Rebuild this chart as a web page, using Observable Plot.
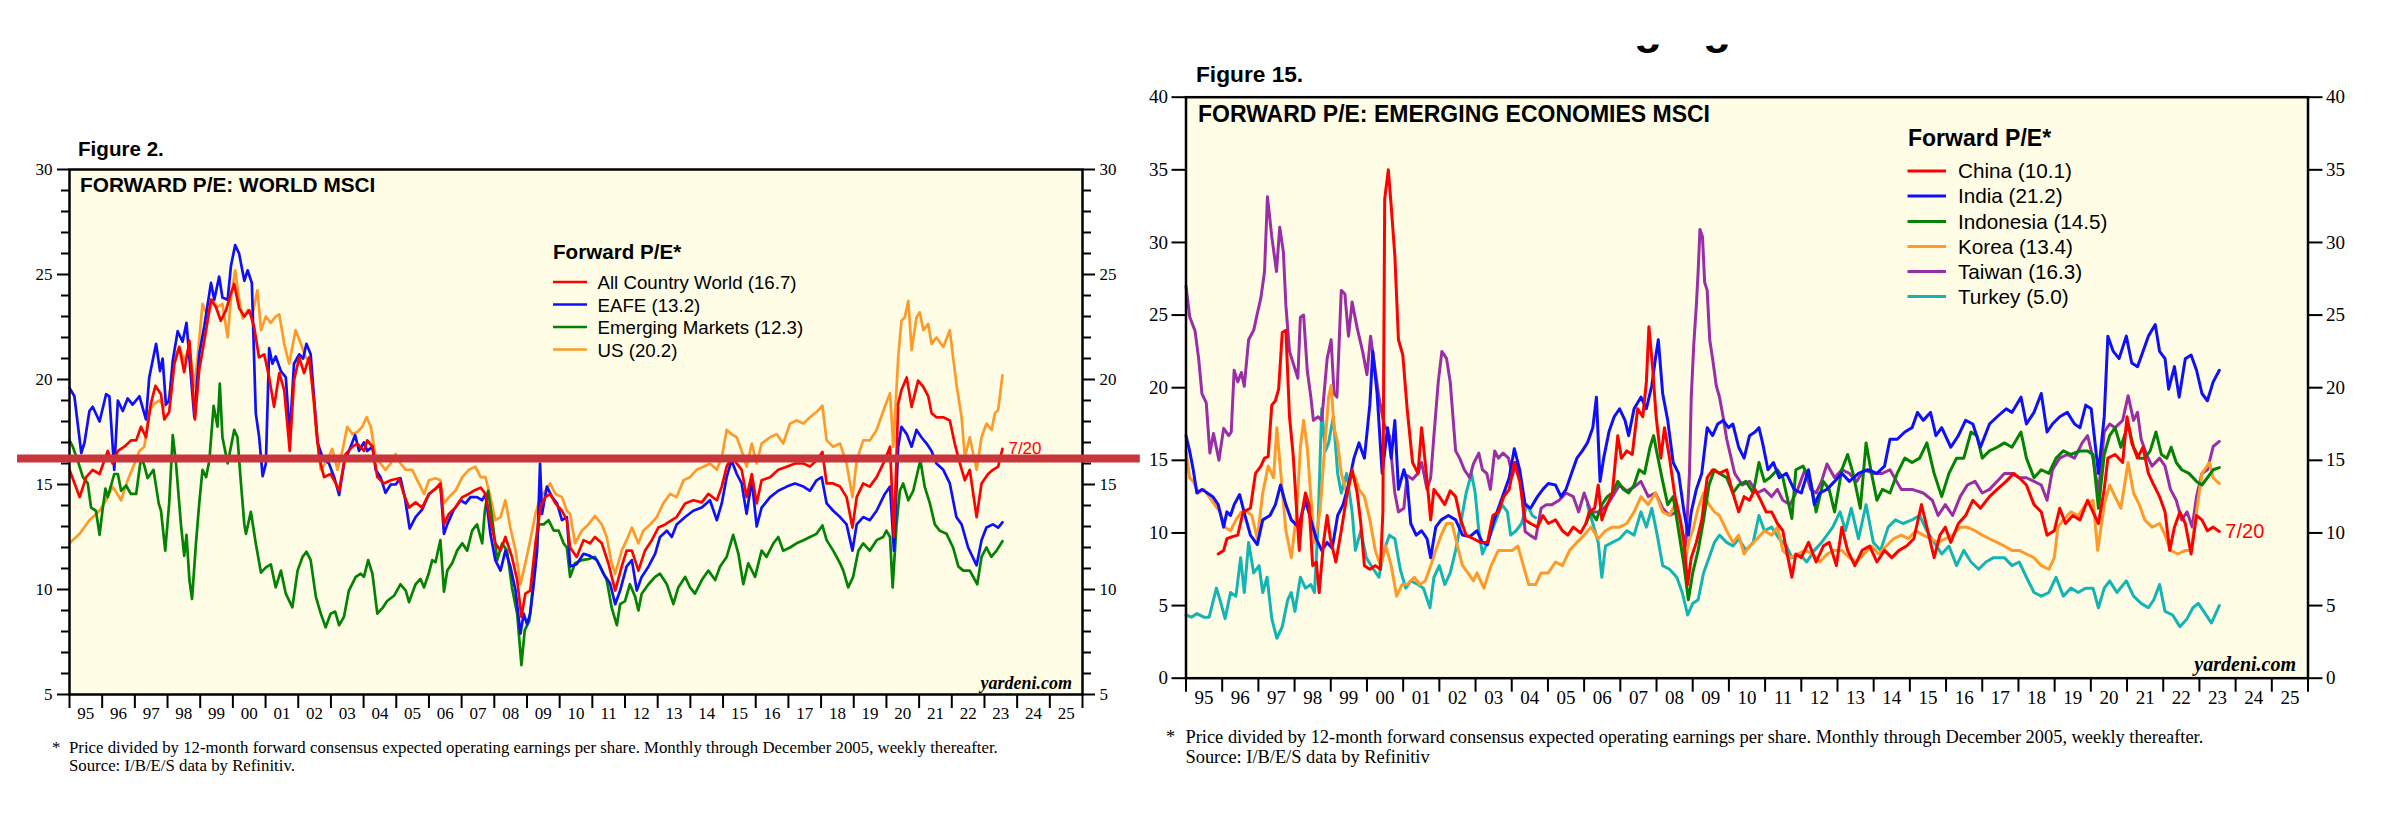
<!DOCTYPE html>
<html><head><meta charset="utf-8">
<script src="https://cdn.jsdelivr.net/npm/d3@7"></script>
<script src="https://cdn.jsdelivr.net/npm/@observablehq/plot@0.6"></script>
<style>
html,body{margin:0;padding:0;background:#fff;}
#page{position:relative;width:2389px;height:814px;overflow:hidden;background:#fff;}
</style></head><body><div id="page"></div>
<script>
// ---------- tick labels ----------
const yearTicks = d3.range(1995, 2027);
const yearMids = d3.range(1995.5, 2026, 1);
const yearLabels = ["95","96","97","98","99","00","01","02","03","04","05","06","07","08","09","10","11","12","13","14","15","16","17","18","19","20","21","22","23","24","25"];
const leftMajors = [5,10,15,20,25,30];
const leftMinors = [6,7,8,9,11,12,13,14,16,17,18,19,21,22,23,24,26,27,28,29];
const rightMajors = [0,5,10,15,20,25,30,35,40];
const leftNames = ["All Country World (16.7)","EAFE (13.2)","Emerging Markets (12.3)","US (20.2)"];
const rightNames = ["China (10.1)","India (21.2)","Indonesia (14.5)","Korea (13.4)","Taiwan (16.3)","Turkey (5.0)"];

// ---------- Figure 2 series: [year, forward P/E] ----------
const acw = [[1995.00,15.7],[1995.31,14.4],[1995.51,15.35],[1995.71,15.7],[1995.92,15.5],[1996.17,16.6],[1996.32,16.0],[1996.48,16.6],[1996.68,16.8],[1996.88,17.1],[1997.04,17.1],[1997.19,17.75],[1997.34,17.25],[1997.49,18.85],[1997.63,19.7],[1997.80,19.3],[1997.90,18.1],[1998.05,18.45],[1998.21,20.75],[1998.36,21.55],[1998.51,20.35],[1998.67,21.85],[1998.84,18.1],[1998.97,20.45],[1999.18,22.35],[1999.33,23.8],[1999.48,23.45],[1999.63,22.8],[1999.79,23.3],[1999.94,24.1],[2000.04,24.55],[2000.19,23.4],[2000.35,23.0],[2000.50,23.3],[2000.65,22.5],[2000.80,21.05],[2000.96,21.2],[2001.11,20.1],[2001.26,18.7],[2001.42,20.3],[2001.57,19.5],[2001.74,16.6],[2001.87,19.95],[2002.03,21.05],[2002.18,20.3],[2002.33,21.05],[2002.48,19.0],[2002.64,16.3],[2002.79,15.35],[2002.99,15.5],[2003.15,15.05],[2003.25,14.7],[2003.45,16.45],[2003.66,16.8],[2003.81,16.95],[2004.01,16.6],[2004.11,17.1],[2004.27,16.8],[2004.42,15.35],[2004.62,15.05],[2004.83,15.2],[2005.08,15.3],[2005.23,14.55],[2005.39,13.9],[2005.59,14.15],[2005.79,13.9],[2006.00,14.55],[2006.20,14.8],[2006.35,15.05],[2006.46,13.1],[2006.61,13.6],[2006.81,13.9],[2007.02,14.4],[2007.22,14.55],[2007.37,14.7],[2007.58,14.85],[2007.73,14.55],[2007.88,13.3],[2008.03,12.2],[2008.19,11.85],[2008.34,12.5],[2008.54,11.55],[2008.70,10.45],[2008.83,8.7],[2008.95,9.8],[2009.10,9.95],[2009.26,12.2],[2009.41,13.9],[2009.56,14.4],[2009.71,14.55],[2009.87,14.1],[2010.07,13.75],[2010.22,13.3],
[2010.32,12.0],[2010.52,11.55],[2010.73,12.35],[2010.93,12.2],[2011.08,12.5],[2011.29,12.2],[2011.49,11.25],[2011.70,9.95],[2011.90,11.1],[2012.05,11.85],[2012.21,11.85],[2012.41,10.9],[2012.61,11.85],[2012.82,12.35],[2013.02,12.95],[2013.23,13.1],[2013.43,13.3],[2013.58,13.45],[2013.84,14.1],[2014.09,14.25],[2014.35,14.15],[2014.55,14.55],[2014.81,14.25],[2014.96,14.9],[2015.11,15.85],[2015.26,16.3],[2015.42,16.0],[2015.57,15.7],[2015.72,14.4],[2015.88,15.5],[2016.03,14.1],[2016.18,15.2],[2016.44,15.35],[2016.69,15.7],[2016.95,15.85],[2017.20,16.0],[2017.46,16.0],[2017.66,15.85],[2017.86,16.15],[2018.04,16.55],[2018.17,15.05],[2018.37,15.05],[2018.58,14.9],[2018.78,14.4],[2018.96,12.95],[2019.09,14.4],[2019.29,15.05],[2019.49,14.9],[2019.70,15.35],[2019.95,16.15],[2020.11,16.8],[2020.23,12.5],[2020.36,18.85],[2020.46,19.5],[2020.62,20.1],[2020.77,18.7],[2020.97,19.95],[2021.13,19.65],[2021.28,19.2],[2021.38,18.4],[2021.53,18.2],[2021.74,18.2],[2021.94,18.05],[2022.09,16.95],[2022.25,16.0],[2022.40,15.2],[2022.55,15.7],[2022.76,13.45],[2022.91,15.05],[2023.11,15.5],[2023.26,15.7],[2023.42,15.85],[2023.55,16.7]];

const eafe = [[1995.00,19.6],[1995.15,19.2],[1995.36,16.5],[1995.46,17.0],[1995.61,18.5],[1995.71,18.7],[1995.92,18.0],[1996.12,19.3],[1996.22,19.2],[1996.37,15.7],[1996.48,19.0],[1996.63,18.5],[1996.78,19.1],[1996.93,18.8],[1997.14,19.2],[1997.34,18.1],[1997.44,20.1],[1997.65,21.7],[1997.77,20.4],[1997.85,21.0],[1997.95,18.8],[1998.05,19.0],[1998.16,20.9],[1998.31,22.3],[1998.46,21.8],[1998.58,22.7],[1998.82,18.2],[1998.97,21.2],[1999.12,22.5],[1999.33,24.6],[1999.43,23.8],[1999.58,24.9],[1999.68,23.9],[1999.84,23.8],[1999.94,25.4],[2000.07,26.4],[2000.19,26.0],[2000.35,24.7],[2000.45,25.2],[2000.58,24.6],[2000.70,18.4],[2000.80,17.3],[2000.91,15.4],[2001.01,16.0],[2001.11,21.5],[2001.21,20.75],[2001.31,21.1],[2001.47,20.4],[2001.62,20.1],[2001.74,17.3],[2001.87,20.75],[2002.03,21.2],[2002.15,21.0],[2002.25,21.7],[2002.38,21.2],[2002.48,19.2],[2002.59,17.0],[2002.74,16.3],[2002.94,16.0],[2003.10,15.35],[2003.25,14.5],[2003.40,16.0],[2003.55,16.6],[2003.74,17.35],[2003.86,16.6],[2004.01,17.0],[2004.11,16.6],[2004.27,16.8],[2004.37,15.7],[2004.52,15.35],[2004.67,14.6],[2004.83,15.0],[2004.98,15.0],[2005.13,15.3],[2005.26,14.4],[2005.41,12.9],[2005.59,13.45],[2005.79,13.8],[2006.00,14.55],[2006.20,14.8],[2006.35,15.0],[2006.46,12.65],[2006.56,13.1],[2006.76,13.8],[2006.97,14.25],[2007.12,14.1],[2007.27,14.4],[2007.47,14.4],[2007.63,14.25],[2007.73,14.55],[2007.88,12.65],[2008.03,11.4],[2008.19,10.9],[2008.34,11.85],[2008.49,11.1],[2008.65,9.95],[2008.80,7.9],[2008.90,8.85],[2009.00,8.35],[2009.10,8.85],[2009.21,10.3],[2009.31,11.85],[2009.40,16.0],[2009.46,13.6],[2009.61,14.9],[2009.77,14.4],[2009.92,14.1],[2010.07,13.3],[2010.22,13.45],
[2010.32,11.1],[2010.52,11.2],[2010.73,11.7],[2010.93,11.6],[2011.14,11.4],[2011.34,10.75],[2011.54,10.3],[2011.70,9.3],[2011.85,9.95],[2012.05,11.1],[2012.21,11.4],[2012.36,9.95],[2012.51,10.6],[2012.72,11.1],[2012.92,11.7],[2013.07,12.5],[2013.28,12.8],[2013.43,12.5],[2013.58,13.1],[2013.84,13.45],[2014.09,13.75],[2014.35,13.9],[2014.60,14.25],[2014.81,13.3],[2014.96,14.1],[2015.11,15.35],[2015.26,16.15],[2015.42,15.5],[2015.57,15.05],[2015.72,13.6],[2015.88,15.2],[2016.03,13.0],[2016.18,13.9],[2016.44,14.4],[2016.69,14.7],[2016.95,14.9],[2017.20,15.05],[2017.46,14.9],[2017.66,14.7],[2017.86,15.2],[2018.02,15.35],[2018.17,14.1],[2018.37,13.75],[2018.58,13.45],[2018.78,13.1],[2018.96,11.85],[2019.09,13.1],[2019.29,13.45],[2019.49,13.3],[2019.70,13.75],[2019.95,14.55],[2020.11,14.9],[2020.23,11.85],[2020.36,16.8],[2020.46,17.75],[2020.62,17.4],[2020.77,16.8],[2020.92,17.6],[2021.07,17.25],[2021.23,16.95],[2021.38,16.6],[2021.53,16.0],[2021.74,15.7],[2021.94,15.05],[2022.14,13.45],[2022.30,13.1],[2022.50,12.0],[2022.76,11.15],[2022.91,12.35],[2023.06,12.95],[2023.26,13.1],[2023.42,12.95],[2023.55,13.2]];

const em = [[1995.00,17.1],[1995.10,16.8],[1995.25,16.15],[1995.41,15.35],[1995.56,15.05],[1995.66,13.9],[1995.81,13.75],[1995.92,12.6],[1996.02,13.9],[1996.10,14.8],[1996.17,14.4],[1996.37,15.5],[1996.48,15.5],[1996.58,14.7],[1996.73,14.95],[1996.88,14.55],[1997.04,14.55],[1997.19,16.3],[1997.29,15.9],[1997.39,15.3],[1997.57,15.7],[1997.73,14.1],[1997.80,13.75],[1997.93,11.85],[1998.05,14.1],[1998.16,17.35],[1998.26,16.0],[1998.41,13.1],[1998.51,11.6],[1998.58,12.6],[1998.67,10.45],[1998.75,9.55],[1998.87,12.2],[1998.97,14.1],[1999.07,15.7],[1999.18,15.35],[1999.28,16.15],[1999.41,18.75],[1999.53,17.75],[1999.60,19.8],[1999.68,17.25],[1999.84,16.0],[1999.94,16.8],[2000.04,17.6],[2000.14,17.25],[2000.24,15.2],[2000.35,13.1],[2000.40,12.65],[2000.55,13.7],[2000.70,12.2],[2000.86,10.8],[2001.01,11.05],[2001.16,11.2],[2001.31,10.1],[2001.47,10.9],[2001.62,9.8],[2001.82,9.15],[2001.98,10.9],[2002.13,11.55],[2002.25,11.8],[2002.38,11.4],[2002.54,9.65],[2002.69,8.85],[2002.84,8.2],[2002.99,8.85],[2003.13,8.95],[2003.25,8.3],[2003.40,8.7],[2003.55,9.95],[2003.76,10.6],[2003.91,10.75],[2004.01,10.6],[2004.14,11.4],[2004.27,10.75],[2004.42,8.85],[2004.57,9.1],[2004.72,9.45],[2004.93,9.7],[2005.13,10.25],[2005.29,9.95],[2005.39,9.4],[2005.59,10.25],[2005.74,10.5],[2005.85,10.1],[2006.00,10.8],[2006.10,11.4],[2006.20,11.3],[2006.35,12.35],[2006.46,9.9],[2006.56,10.9],[2006.71,11.25],[2006.86,11.85],[2007.02,12.2],[2007.17,11.85],[2007.32,12.8],[2007.47,13.1],[2007.63,12.2],[2007.71,13.75],[2007.81,14.7],[2007.93,13.45],[2008.09,11.4],[2008.24,12.2],[2008.39,11.85],[2008.54,10.1],[2008.70,8.85],[2008.83,6.4],[2008.93,8.05],[2009.07,8.5],[2009.21,10.6],[2009.36,13.1],[2009.51,13.1],[2009.66,13.3],[2009.82,12.8],[2009.97,12.8],[2010.12,12.2],[2010.22,12.0],
[2010.32,10.6],[2010.47,11.25],[2010.68,11.4],[2010.88,11.45],[2011.08,11.55],[2011.24,11.1],[2011.44,10.45],[2011.59,9.15],[2011.75,8.3],[2011.85,9.3],[2012.00,9.45],[2012.15,10.25],[2012.31,9.65],[2012.41,9.0],[2012.51,9.8],[2012.72,10.25],[2012.92,10.6],[2013.07,10.75],[2013.28,10.25],[2013.48,9.3],[2013.63,10.1],[2013.84,10.6],[2013.99,10.1],[2014.14,9.8],[2014.35,10.45],[2014.55,10.9],[2014.76,10.45],[2014.91,11.1],[2015.11,11.55],[2015.31,12.6],[2015.47,11.7],[2015.62,10.25],[2015.77,11.25],[2015.98,10.6],[2016.18,11.85],[2016.33,11.55],[2016.54,12.2],[2016.69,12.5],[2016.84,11.85],[2017.05,12.0],[2017.25,12.2],[2017.46,12.35],[2017.66,12.5],[2017.86,12.65],[2018.04,13.05],[2018.17,12.35],[2018.37,11.85],[2018.58,11.25],[2018.68,10.9],[2018.83,10.1],[2018.98,10.6],[2019.14,11.85],[2019.29,12.2],[2019.49,11.85],[2019.70,12.35],[2019.90,12.5],[2020.00,12.8],[2020.11,12.5],[2020.19,10.1],[2020.31,13.1],[2020.41,14.7],[2020.51,15.05],[2020.67,14.25],[2020.82,14.7],[2020.97,15.7],[2021.04,16.15],[2021.17,14.9],[2021.33,14.1],[2021.48,13.1],[2021.63,12.8],[2021.84,12.65],[2022.04,12.0],[2022.20,11.1],[2022.35,10.9],[2022.55,10.9],[2022.78,10.25],[2022.91,11.55],[2023.06,12.0],[2023.21,11.55],[2023.37,11.85],[2023.55,12.3]];

const us = [[1995.00,12.2],[1995.31,12.65],[1995.61,13.3],[1995.92,13.75],[1996.12,14.25],[1996.32,14.9],[1996.58,14.25],[1996.78,15.2],[1996.99,16.0],[1997.14,16.6],[1997.29,16.8],[1997.44,18.5],[1997.60,18.85],[1997.75,19.0],[1997.90,18.7],[1998.05,19.15],[1998.21,21.05],[1998.36,21.55],[1998.51,20.9],[1998.67,21.55],[1998.82,19.65],[1998.92,21.05],[1999.07,23.6],[1999.23,23.0],[1999.38,23.8],[1999.53,23.45],[1999.68,23.6],[1999.84,22.0],[1999.94,23.9],[2000.07,25.2],[2000.19,23.8],[2000.30,22.9],[2000.45,23.3],[2000.60,23.1],[2000.75,24.25],[2000.86,22.35],[2001.01,23.0],[2001.16,22.7],[2001.31,23.0],[2001.42,23.1],[2001.57,21.7],[2001.72,20.75],[2001.82,21.55],[2001.92,22.35],[2002.08,21.7],[2002.23,21.05],[2002.38,20.75],[2002.54,17.6],[2002.69,15.7],[2002.89,16.15],[2003.04,16.7],[2003.20,15.7],[2003.35,16.6],[2003.50,17.75],[2003.66,17.4],[2003.81,17.5],[2003.96,17.75],[2004.09,18.2],[2004.22,17.75],[2004.37,16.3],[2004.52,16.0],[2004.67,15.7],[2004.83,16.0],[2004.98,16.45],[2005.13,16.0],[2005.29,15.7],[2005.49,15.7],[2005.69,15.05],[2005.85,14.55],[2006.00,15.2],[2006.20,15.3],[2006.35,15.2],[2006.46,14.1],[2006.61,14.4],[2006.81,14.7],[2007.02,15.35],[2007.22,15.7],[2007.42,15.85],[2007.58,15.35],[2007.73,15.35],[2007.88,14.4],[2008.03,13.3],[2008.19,13.45],[2008.34,14.25],[2008.49,12.95],[2008.65,11.85],[2008.80,10.25],[2008.95,11.25],[2009.10,12.35],[2009.26,13.6],[2009.41,14.4],[2009.56,14.7],[2009.71,15.05],[2009.87,14.55],[2010.07,14.4],[2010.22,13.75],
[2010.32,13.6],[2010.47,12.2],[2010.68,12.8],[2010.88,13.1],[2011.08,13.5],[2011.29,13.1],[2011.44,12.5],[2011.59,11.25],[2011.70,10.75],[2011.90,11.85],[2012.05,12.35],[2012.21,12.95],[2012.41,12.2],[2012.56,12.8],[2012.77,13.1],[2012.97,13.45],[2013.17,14.1],[2013.38,14.55],[2013.58,14.4],[2013.79,15.2],[2013.99,15.35],[2014.19,15.7],[2014.40,15.85],[2014.60,16.0],[2014.81,15.7],[2014.96,16.3],[2015.11,17.6],[2015.26,17.4],[2015.42,17.25],[2015.57,16.6],[2015.72,15.85],[2015.88,16.95],[2016.03,16.0],[2016.18,16.95],[2016.44,17.25],[2016.64,17.4],[2016.84,16.95],[2017.05,17.9],[2017.25,18.05],[2017.46,17.9],[2017.66,18.2],[2017.86,18.45],[2018.04,18.75],[2018.17,17.1],[2018.37,16.8],[2018.58,16.95],[2018.78,16.0],[2018.96,14.4],[2019.09,16.15],[2019.29,17.1],[2019.49,17.1],[2019.70,17.6],[2019.95,18.7],[2020.11,19.35],[2020.21,16.8],[2020.36,21.05],[2020.46,22.8],[2020.56,22.95],[2020.67,23.75],[2020.77,21.4],[2020.92,22.95],[2021.02,23.2],[2021.13,22.35],[2021.28,22.65],[2021.38,21.7],[2021.53,22.0],[2021.74,21.55],[2021.94,22.35],[2022.04,21.05],[2022.14,19.8],[2022.30,18.2],[2022.40,16.3],[2022.55,17.25],[2022.76,15.7],[2022.91,17.25],[2023.06,17.9],[2023.22,17.6],[2023.32,18.4],[2023.42,18.55],[2023.55,20.2]];

// ---------- Figure 15 series ----------
const china = [[1995.89,8.55],[1996.04,8.8],[1996.13,9.6],[1996.28,9.75],[1996.43,9.85],[1996.58,11.45],[1996.78,11.7],[1996.92,14.1],[1997.07,14.6],[1997.17,15.15],[1997.27,15.25],[1997.37,18.8],[1997.47,19.1],[1997.56,19.9],[1997.66,23.8],[1997.76,23.95],[1997.86,18.0],[1997.96,15.4],[1998.06,11.45],[1998.13,8.8],[1998.21,11.45],[1998.30,12.75],[1998.40,11.95],[1998.50,7.75],[1998.60,8.0],[1998.68,5.9],[1998.80,9.35],[1998.90,11.2],[1998.99,9.6],[1999.14,8.0],[1999.29,10.15],[1999.44,12.5],[1999.59,14.35],[1999.73,12.75],[1999.83,10.65],[1999.93,7.75],[2000.08,7.5],[2000.23,7.75],[2000.37,7.5],[2000.44,11.45],[2000.49,33.0],[2000.59,35.0],[2000.67,32.5],[2000.77,29.1],[2000.87,23.3],[2000.99,22.25],[2001.11,18.55],[2001.26,14.85],[2001.41,14.1],[2001.51,17.25],[2001.64,14.1],[2001.76,10.9],[2001.85,13.0],[2002.00,12.5],[2002.15,11.95],[2002.30,12.9],[2002.45,12.5],[2002.59,10.9],[2002.74,9.85],[2002.94,9.6],[2003.14,9.35],[2003.33,9.35],[2003.48,11.2],[2003.63,11.45],[2003.78,12.5],[2003.93,13.0],[2004.07,14.85],[2004.22,13.55],[2004.37,10.9],[2004.52,10.65],[2004.71,10.4],[2004.86,11.2],[2005.01,10.65],[2005.21,10.9],[2005.40,10.15],[2005.55,9.85],[2005.70,10.4],[2005.90,10.0],[2006.05,10.65],[2006.14,11.45],[2006.29,11.7],[2006.39,13.3],[2006.49,10.9],[2006.64,11.95],[2006.78,12.75],[2006.93,16.7],[2007.03,15.15],[2007.18,15.65],[2007.33,15.4],[2007.48,18.55],[2007.62,18.0],[2007.72,20.4],[2007.79,24.2],[2007.89,21.45],[2007.99,18.0],[2008.12,15.15],[2008.22,17.25],[2008.36,15.15],[2008.51,12.5],[2008.66,10.9],[2008.76,9.35],[2008.86,6.45],[2008.96,8.3],[2009.10,9.35],[2009.25,10.9],[2009.40,13.8],[2009.55,14.35],[2009.74,14.1],[2009.94,14.35],
[2010.11,12.75],[2010.27,11.45],[2010.42,12.5],[2010.57,12.25],[2010.72,13.0],[2010.88,12.25],[2011.03,11.45],[2011.18,11.45],[2011.34,10.65],[2011.49,10.15],[2011.59,8.8],[2011.74,6.95],[2011.85,8.55],[2012.00,8.3],[2012.20,9.35],[2012.41,8.0],[2012.61,9.1],[2012.77,9.35],[2012.97,7.75],[2013.12,10.4],[2013.28,8.8],[2013.48,7.75],[2013.68,8.8],[2013.89,9.1],[2014.09,8.0],[2014.30,8.8],[2014.50,8.3],[2014.70,8.8],[2014.91,9.1],[2015.11,9.6],[2015.32,11.95],[2015.47,10.4],[2015.67,8.3],[2015.83,9.85],[2015.98,10.4],[2016.13,9.35],[2016.34,10.65],[2016.54,11.2],[2016.74,12.25],[2016.95,11.7],[2017.20,12.5],[2017.41,13.0],[2017.66,13.55],[2017.87,14.1],[2018.02,13.8],[2018.22,13.3],[2018.43,11.95],[2018.63,11.45],[2018.79,9.85],[2018.99,10.15],[2019.14,11.7],[2019.30,10.65],[2019.50,11.2],[2019.70,10.9],[2019.91,12.25],[2020.06,11.45],[2020.21,10.65],[2020.37,13.0],[2020.47,15.15],[2020.67,15.4],[2020.88,14.85],[2021.00,18.0],[2021.13,16.2],[2021.29,15.15],[2021.44,15.9],[2021.59,14.1],[2021.74,13.3],[2021.90,12.5],[2022.05,11.45],[2022.18,8.8],[2022.31,10.4],[2022.46,11.45],[2022.61,10.65],[2022.77,8.55],[2022.92,11.2],[2023.07,10.9],[2023.22,10.15],[2023.38,10.4],[2023.55,10.1]];

const india = [[1995.00,16.7],[1995.10,15.65],[1995.20,14.35],[1995.30,12.75],[1995.44,13.0],[1995.59,12.75],[1995.74,12.5],[1995.89,11.95],[1996.04,10.4],[1996.13,11.45],[1996.23,11.2],[1996.33,11.95],[1996.48,12.65],[1996.63,11.2],[1996.78,9.85],[1996.97,9.2],[1997.12,10.9],[1997.32,11.2],[1997.47,11.95],[1997.61,13.3],[1997.76,11.95],[1997.91,10.9],[1998.11,10.4],[1998.30,12.25],[1998.45,10.9],[1998.60,9.6],[1998.75,8.8],[1998.90,9.35],[1999.04,8.95],[1999.19,11.2],[1999.34,11.95],[1999.49,13.3],[1999.64,15.15],[1999.78,16.2],[1999.93,15.15],[2000.08,18.85],[2000.16,22.5],[2000.28,19.6],[2000.42,14.1],[2000.57,17.25],[2000.67,15.15],[2000.77,17.75],[2000.87,13.0],[2001.02,14.35],[2001.11,13.55],[2001.21,10.65],[2001.36,9.85],[2001.51,10.15],[2001.66,9.6],[2001.76,8.3],[2001.90,10.4],[2002.05,10.9],[2002.25,11.2],[2002.45,10.9],[2002.64,9.85],[2002.84,9.75],[2003.04,10.15],[2003.19,9.35],[2003.33,9.2],[2003.48,10.65],[2003.63,11.7],[2003.78,12.75],[2003.93,13.8],[2004.07,15.8],[2004.22,14.35],[2004.37,11.95],[2004.52,11.7],[2004.71,12.5],[2004.86,13.0],[2005.01,13.4],[2005.21,13.3],[2005.36,12.5],[2005.50,13.0],[2005.65,14.1],[2005.80,15.15],[2005.95,15.65],[2006.09,16.2],[2006.24,17.25],[2006.34,19.35],[2006.44,13.55],[2006.54,15.15],[2006.69,17.0],[2006.83,18.0],[2006.98,18.55],[2007.13,17.75],[2007.23,16.7],[2007.38,18.55],[2007.57,19.35],[2007.72,18.55],[2007.87,20.15],[2007.97,22.0],[2008.05,23.3],[2008.17,19.6],[2008.31,17.75],[2008.46,14.85],[2008.61,14.1],[2008.76,11.45],[2008.88,9.85],[2008.96,11.45],[2009.10,13.0],[2009.25,14.1],[2009.40,17.25],[2009.55,16.7],[2009.69,17.5],[2009.84,17.75],[2009.99,17.25],
[2010.11,17.5],[2010.27,15.9],[2010.42,15.15],[2010.57,16.7],[2010.72,16.95],[2010.83,17.25],[2010.93,16.2],[2011.08,14.35],[2011.23,14.85],[2011.39,13.8],[2011.59,14.1],[2011.80,13.0],[2012.00,12.75],[2012.20,14.35],[2012.36,11.95],[2012.51,12.75],[2012.71,13.0],[2012.92,13.55],[2013.12,14.1],[2013.33,13.55],[2013.58,14.1],[2013.84,14.35],[2014.09,14.1],[2014.30,14.6],[2014.45,16.45],[2014.65,16.45],[2014.86,16.95],[2015.06,17.25],[2015.21,18.3],[2015.37,17.75],[2015.57,18.3],[2015.72,16.7],[2015.88,17.25],[2016.13,15.9],[2016.34,16.7],[2016.54,17.75],[2016.74,17.5],[2016.95,15.9],[2017.20,17.5],[2017.41,18.0],[2017.66,18.55],[2017.82,18.3],[2018.07,19.35],[2018.22,17.5],[2018.43,18.3],[2018.63,19.6],[2018.79,16.95],[2018.94,17.5],[2019.14,18.0],[2019.35,18.3],[2019.55,17.5],[2019.70,17.25],[2019.86,18.8],[2020.01,18.55],[2020.21,14.1],[2020.37,18.0],[2020.47,23.55],[2020.62,22.5],[2020.78,22.0],[2020.98,23.55],[2021.13,21.7],[2021.29,21.45],[2021.44,22.5],[2021.59,23.55],[2021.78,24.35],[2021.90,22.5],[2022.05,22.0],[2022.15,19.9],[2022.31,21.45],[2022.44,19.35],[2022.61,22.0],[2022.77,22.25],[2022.92,21.2],[2023.07,19.6],[2023.22,19.1],[2023.38,20.4],[2023.55,21.2]];

const indonesia = [[2006.05,10.65],[2006.19,11.45],[2006.34,10.9],[2006.49,11.95],[2006.64,12.5],[2006.78,12.75],[2006.93,13.55],[2007.08,13.0],[2007.23,12.75],[2007.38,13.3],[2007.52,14.35],[2007.67,14.1],[2007.82,15.9],[2007.92,16.7],[2008.02,15.4],[2008.17,13.55],[2008.31,11.95],[2008.46,12.5],[2008.61,10.15],[2008.76,7.75],[2008.88,5.4],[2009.00,7.25],[2009.15,8.8],[2009.30,10.9],[2009.45,13.3],[2009.60,14.35],[2009.74,14.1],[2009.94,13.8],
[2010.11,12.75],[2010.27,13.3],[2010.47,13.55],[2010.67,12.75],[2010.83,14.85],[2010.98,13.55],[2011.13,13.8],[2011.34,14.35],[2011.49,13.8],[2011.74,11.0],[2011.85,14.35],[2012.05,14.6],[2012.26,13.55],[2012.41,11.45],[2012.61,13.55],[2012.77,13.0],[2012.92,11.45],[2013.12,14.35],[2013.28,15.4],[2013.43,14.1],[2013.63,11.7],[2013.79,16.2],[2013.94,14.1],[2014.09,12.25],[2014.24,13.0],[2014.45,12.75],[2014.65,14.1],[2014.86,15.15],[2015.06,14.85],[2015.27,15.15],[2015.47,16.2],[2015.67,14.1],[2015.88,12.5],[2016.08,14.1],[2016.29,15.15],[2016.49,15.15],[2016.69,16.95],[2016.85,16.7],[2017.00,15.15],[2017.20,15.65],[2017.41,15.9],[2017.61,16.2],[2017.82,15.9],[2018.07,16.95],[2018.22,15.15],[2018.43,13.8],[2018.63,14.35],[2018.84,14.1],[2019.04,15.15],[2019.24,15.65],[2019.45,15.4],[2019.70,15.65],[2019.91,15.65],[2020.06,15.4],[2020.21,11.7],[2020.37,15.4],[2020.52,16.7],[2020.67,17.25],[2020.83,15.9],[2021.03,17.5],[2021.18,15.9],[2021.34,15.15],[2021.49,15.15],[2021.64,15.65],[2021.80,16.95],[2021.95,15.4],[2022.10,15.15],[2022.22,15.9],[2022.36,14.85],[2022.51,14.35],[2022.71,14.1],[2022.92,13.55],[2023.07,13.3],[2023.22,13.8],[2023.38,14.35],[2023.55,14.5]];

const korea = [[1995.00,15.65],[1995.10,13.8],[1995.20,13.55],[1995.35,12.75],[1995.49,13.0],[1995.64,12.5],[1995.79,11.95],[1995.94,11.45],[1996.08,10.4],[1996.23,10.15],[1996.38,10.9],[1996.53,11.45],[1996.68,11.45],[1996.82,11.2],[1996.97,9.6],[1997.12,12.75],[1997.27,14.6],[1997.42,13.8],[1997.51,17.25],[1997.61,14.35],[1997.76,10.15],[1997.91,8.3],[1998.06,11.45],[1998.16,15.9],[1998.25,17.75],[1998.35,15.9],[1998.45,12.5],[1998.55,9.35],[1998.70,11.45],[1998.85,16.45],[1998.94,19.35],[1999.01,20.15],[1999.09,17.25],[1999.19,16.2],[1999.29,14.1],[1999.44,12.75],[1999.59,14.1],[1999.68,13.8],[1999.78,13.0],[1999.93,12.5],[2000.08,10.9],[2000.23,8.8],[2000.37,7.75],[2000.52,9.1],[2000.67,7.75],[2000.82,5.65],[2000.97,6.45],[2001.11,6.45],[2001.31,6.95],[2001.46,6.45],[2001.61,6.7],[2001.76,7.75],[2001.90,8.8],[2002.05,9.85],[2002.20,10.65],[2002.35,10.65],[2002.50,9.1],[2002.64,7.75],[2002.79,7.25],[2002.94,6.7],[2003.04,7.25],[2003.23,6.2],[2003.43,7.75],[2003.63,8.8],[2003.83,8.8],[2004.02,8.8],[2004.17,9.1],[2004.32,7.75],[2004.47,6.45],[2004.66,6.45],[2004.81,7.25],[2005.01,7.25],[2005.21,8.0],[2005.40,7.75],[2005.60,8.8],[2005.80,9.35],[2006.00,9.85],[2006.19,10.4],[2006.39,9.6],[2006.59,10.15],[2006.78,10.4],[2006.98,10.4],[2007.18,10.65],[2007.38,11.45],[2007.57,12.5],[2007.77,11.95],[2007.97,12.75],[2008.17,11.45],[2008.36,11.2],[2008.51,11.95],[2008.66,9.85],[2008.81,8.3],[2008.91,9.6],[2009.00,10.15],[2009.15,11.7],[2009.30,12.75],[2009.45,11.95],[2009.60,11.45],[2009.74,11.2],[2009.94,10.15],
[2010.11,9.35],[2010.27,9.85],[2010.42,8.55],[2010.57,9.1],[2010.78,9.6],[2010.98,10.15],[2011.18,9.85],[2011.34,10.4],[2011.49,8.8],[2011.69,8.3],[2011.90,8.55],[2012.10,8.8],[2012.31,8.55],[2012.51,8.0],[2012.71,8.55],[2012.92,8.8],[2013.12,8.8],[2013.33,8.3],[2013.53,8.0],[2013.73,8.55],[2013.94,9.1],[2014.14,8.55],[2014.35,9.1],[2014.55,9.6],[2014.76,9.85],[2014.96,9.6],[2015.16,10.15],[2015.37,9.85],[2015.57,9.6],[2015.78,9.35],[2015.98,9.6],[2016.18,9.85],[2016.39,10.4],[2016.59,10.4],[2016.80,10.15],[2017.00,9.85],[2017.20,9.6],[2017.41,9.35],[2017.61,9.1],[2017.82,8.8],[2018.02,8.8],[2018.22,8.55],[2018.43,8.3],[2018.63,7.75],[2018.84,7.5],[2018.99,8.3],[2019.09,10.4],[2019.24,10.9],[2019.45,11.45],[2019.65,11.2],[2019.86,11.95],[2020.06,12.25],[2020.19,8.8],[2020.37,11.95],[2020.52,13.3],[2020.67,12.5],[2020.83,11.7],[2021.03,14.85],[2021.18,12.75],[2021.34,11.95],[2021.49,10.9],[2021.69,10.4],[2021.90,10.65],[2022.05,9.85],[2022.20,8.8],[2022.41,8.55],[2022.61,8.8],[2022.77,8.8],[2022.92,11.45],[2023.07,14.1],[2023.28,14.85],[2023.38,13.8],[2023.55,13.4]];

const taiwan = [[1995.00,27.0],[1995.10,24.9],[1995.25,23.9],[1995.35,22.0],[1995.44,19.6],[1995.56,18.95],[1995.66,15.5],[1995.76,16.85],[1995.91,15.0],[1996.04,17.2],[1996.18,16.7],[1996.25,16.95],[1996.33,21.2],[1996.43,20.4],[1996.53,21.05],[1996.61,20.1],[1996.73,23.3],[1996.87,23.95],[1996.97,25.1],[1997.07,26.2],[1997.17,28.0],[1997.25,33.15],[1997.37,30.4],[1997.50,28.0],[1997.59,31.05],[1997.69,29.35],[1997.76,25.65],[1997.86,22.5],[1997.96,21.7],[1998.09,20.65],[1998.16,24.85],[1998.25,25.0],[1998.35,21.2],[1998.45,19.35],[1998.52,17.75],[1998.65,18.0],[1998.75,17.75],[1998.90,22.0],[1999.01,23.3],[1999.09,19.6],[1999.17,19.35],[1999.29,26.7],[1999.39,26.45],[1999.49,23.55],[1999.59,25.9],[1999.73,24.1],[1999.88,22.5],[2000.00,20.9],[2000.10,23.55],[2000.20,21.7],[2000.33,19.35],[2000.47,17.5],[2000.62,16.7],[2000.77,12.75],[2000.87,11.45],[2001.02,11.7],[2001.11,13.95],[2001.26,13.7],[2001.41,14.1],[2001.51,14.85],[2001.66,13.0],[2001.76,13.8],[2001.85,16.7],[2001.97,20.4],[2002.07,22.5],[2002.20,22.0],[2002.30,20.4],[2002.45,15.65],[2002.56,15.15],[2002.69,14.35],[2002.84,13.8],[2002.94,14.75],[2003.09,15.5],[2003.19,14.35],[2003.31,14.1],[2003.41,13.0],[2003.53,15.65],[2003.63,15.15],[2003.76,15.5],[2003.91,15.15],[2004.02,13.95],[2004.12,14.85],[2004.24,13.8],[2004.37,10.1],[2004.50,9.85],[2004.66,9.6],[2004.81,11.7],[2004.96,11.95],[2005.11,11.95],[2005.31,12.25],[2005.50,12.75],[2005.70,12.5],[2005.85,11.45],[2006.00,12.75],[2006.19,11.45],[2006.44,11.45],[2006.64,11.95],[2006.78,12.5],[2006.98,13.3],[2007.18,12.9],[2007.38,13.15],[2007.57,13.55],[2007.77,12.5],[2007.97,12.75],[2008.17,11.7],[2008.36,11.2],[2008.56,11.45],[2008.71,10.15],[2008.81,9.1],[2008.91,14.1],[2008.96,19.35],[2009.03,23.0],[2009.10,25.65],[2009.15,28.0],[2009.20,30.9],[2009.27,30.4],[2009.33,27.25],[2009.40,26.7],[2009.47,23.3],[2009.55,22.0],[2009.65,20.15],[2009.74,19.35],[2009.84,18.0],[2009.94,16.45],
[2010.16,14.1],[2010.37,13.3],[2010.57,13.55],[2010.78,12.75],[2010.98,13.0],[2011.18,12.5],[2011.34,13.0],[2011.49,12.25],[2011.69,11.95],[2011.90,13.0],[2012.10,14.35],[2012.26,13.0],[2012.41,12.75],[2012.56,13.55],[2012.71,14.75],[2012.92,13.8],[2013.12,14.35],[2013.33,14.1],[2013.53,13.55],[2013.73,14.35],[2013.99,14.1],[2014.24,14.1],[2014.45,14.35],[2014.76,13.0],[2015.06,13.0],[2015.37,12.75],[2015.62,12.25],[2015.78,11.2],[2015.98,11.95],[2016.18,11.2],[2016.39,12.5],[2016.59,13.3],[2016.80,13.55],[2017.00,12.75],[2017.20,13.0],[2017.41,13.55],[2017.61,14.1],[2017.82,14.1],[2018.02,13.8],[2018.22,13.8],[2018.43,13.55],[2018.63,13.3],[2018.79,12.25],[2018.94,14.35],[2019.14,15.15],[2019.35,15.4],[2019.55,15.15],[2019.76,16.2],[2019.91,16.7],[2020.06,15.15],[2020.21,12.75],[2020.37,16.95],[2020.52,17.5],[2020.67,17.25],[2020.88,17.75],[2021.03,19.45],[2021.18,17.75],[2021.29,18.3],[2021.39,16.45],[2021.54,15.4],[2021.69,14.6],[2021.90,15.15],[2022.05,14.6],[2022.20,13.0],[2022.36,12.25],[2022.51,10.9],[2022.66,11.45],[2022.80,10.4],[2022.92,12.5],[2023.07,14.1],[2023.22,14.35],[2023.38,15.95],[2023.55,16.3]];

const turkey = [[1995.00,4.35],[1995.15,4.2],[1995.30,4.45],[1995.49,4.2],[1995.64,4.2],[1995.84,6.2],[1995.94,5.4],[1996.08,4.1],[1996.23,5.9],[1996.38,5.65],[1996.51,8.3],[1996.61,5.9],[1996.73,9.35],[1996.87,7.25],[1997.02,7.75],[1997.12,5.9],[1997.24,6.95],[1997.37,4.1],[1997.51,2.75],[1997.66,3.55],[1997.81,5.4],[1997.91,5.9],[1998.01,4.6],[1998.16,6.95],[1998.30,6.2],[1998.45,6.45],[1998.55,5.9],[1998.65,10.65],[1998.75,18.55],[1998.85,15.65],[1998.94,16.2],[1999.07,18.0],[1999.19,14.1],[1999.29,12.75],[1999.44,14.1],[1999.59,11.45],[1999.68,8.8],[1999.83,10.15],[1999.98,8.3],[2000.18,7.5],[2000.33,6.95],[2000.47,8.8],[2000.62,9.85],[2000.77,9.6],[2000.92,7.5],[2001.07,6.2],[2001.21,6.7],[2001.41,6.45],[2001.56,6.2],[2001.74,4.85],[2001.85,6.95],[2002.00,7.75],[2002.15,6.45],[2002.30,7.25],[2002.45,8.8],[2002.59,10.65],[2002.74,12.75],[2002.89,14.1],[2002.99,12.75],[2003.09,10.15],[2003.19,8.55],[2003.33,9.35],[2003.53,10.65],[2003.73,11.95],[2003.88,11.45],[2003.97,9.85],[2004.12,10.15],[2004.27,10.65],[2004.42,11.95],[2004.57,11.2],[2004.66,11.05],[2005.30,NaN],[2006.09,11.95],[2006.24,10.65],[2006.39,9.35],[2006.49,6.95],[2006.59,9.1],[2006.78,9.35],[2006.98,9.6],[2007.18,10.15],[2007.38,9.85],[2007.57,11.45],[2007.72,10.4],[2007.87,11.7],[2008.02,9.85],[2008.17,7.75],[2008.36,7.5],[2008.56,6.95],[2008.71,5.9],[2008.86,4.35],[2009.00,5.15],[2009.15,5.4],[2009.30,7.25],[2009.45,8.3],[2009.60,9.35],[2009.74,9.85],[2009.94,9.35],
[2010.11,9.1],[2010.27,9.6],[2010.47,8.8],[2010.67,9.35],[2010.83,11.2],[2010.98,10.15],[2011.18,10.4],[2011.39,9.6],[2011.59,9.1],[2011.74,8.3],[2011.95,8.55],[2012.15,8.0],[2012.36,8.8],[2012.56,9.35],[2012.71,9.85],[2012.87,10.4],[2013.07,11.45],[2013.22,10.15],[2013.38,11.7],[2013.58,9.6],[2013.79,11.95],[2013.99,9.35],[2014.19,8.8],[2014.40,10.4],[2014.60,10.9],[2014.81,10.65],[2015.06,10.9],[2015.27,11.2],[2015.47,10.15],[2015.67,9.35],[2015.88,8.55],[2016.08,9.1],[2016.29,7.75],[2016.49,8.8],[2016.69,8.0],[2016.90,7.5],[2017.10,8.0],[2017.31,8.3],[2017.61,8.3],[2017.82,7.75],[2018.02,8.0],[2018.22,6.95],[2018.43,5.9],[2018.63,5.65],[2018.84,5.9],[2019.04,6.95],[2019.24,5.65],[2019.45,6.2],[2019.65,5.9],[2019.86,6.2],[2020.06,6.2],[2020.21,4.85],[2020.37,6.2],[2020.52,6.7],[2020.72,5.9],[2020.98,6.7],[2021.18,5.65],[2021.39,5.15],[2021.59,4.85],[2021.74,5.4],[2021.90,6.45],[2022.05,4.6],[2022.26,4.35],[2022.46,3.55],[2022.66,4.1],[2022.82,4.85],[2022.97,5.15],[2023.12,4.6],[2023.33,3.8],[2023.55,5.0]];

// ---------- styling ----------
const SANS = "'Liberation Sans', Arial, Helvetica, sans-serif";
const SERIF = "'Liberation Serif', 'Times New Roman', Times, serif";
const BG = "#fffde6";
const COL = {red:"#ff0000", blue:"#0f0fff", green:"#038203", orange:"#ff9a2a", purple:"#9a2ea6", cyan:"#14b4b4"};
const page = document.getElementById("page");

function buildPanel(p) {
  const marks = [Plot.frame({fill: BG, stroke: null})];
  p.series.forEach(s => marks.push(Plot.line(s.data, {x: d => d[0], y: d => d[1], stroke: s.color, strokeWidth: p.lw, strokeLinejoin: "round"})));
  const e = p.endLabel;
  marks.push(Plot.text([e.point], {x: d => d[0], y: d => d[1], text: () => e.text, dx: 6, textAnchor: "start", lineAnchor: "middle", fill: COL.red, fontSize: e.size, fontFamily: SANS}));
  marks.push(Plot.axisY(p.majors, {anchor: "left", tickSize: p.ytick, tickPadding: p.ypad, fontSize: p.yfs, strokeWidth: 2}));
  marks.push(Plot.axisY(p.majors, {anchor: "right", tickSize: p.ytick, tickPadding: p.ypad, fontSize: p.yfs, strokeWidth: 2}));
  if (p.minors) {
    marks.push(Plot.axisY(p.minors, {anchor: "left", tickSize: 8, strokeWidth: 2, tickFormat: () => ""}));
    marks.push(Plot.axisY(p.minors, {anchor: "right", tickSize: 8, strokeWidth: 2, tickFormat: () => ""}));
  }
  marks.push(Plot.axisX(yearTicks, {anchor: "bottom", tickSize: p.xtick, strokeWidth: 2, tickFormat: () => ""}));
  marks.push(Plot.axisX(yearMids, {anchor: "bottom", tickSize: 0, tickPadding: p.xpad, fontSize: p.xfs, tickFormat: d => yearLabels[Math.round(d - 1995.5)]}));
  marks.push(Plot.frame({stroke: "#000", strokeWidth: 2.5}));
  if (p.bar) marks.push(Plot.ruleY([p.bar.y], {x1: p.bar.x1, x2: p.bar.x2, stroke: "#c8363c", strokeWidth: 8}));
  const svg = Plot.plot({
    width: p.width, height: p.height,
    marginLeft: p.mL, marginRight: p.mR, marginTop: p.mT, marginBottom: p.mB,
    x: {domain: [1995, 2026]},
    y: {domain: p.yDomain},
    style: {background: "transparent", overflow: "visible", fontFamily: SERIF, color: "#000"},
    marks
  });
  svg.style.position = "absolute";
  svg.style.left = p.left + "px";
  svg.style.top = p.top + "px";
  page.appendChild(svg);
}

buildPanel({
  left: 0, top: 130, width: 1140, height: 610, mL: 69, mR: 58, mT: 39, mB: 46,
  yDomain: [5, 30], majors: leftMajors, minors: leftMinors,
  ytick: 12, ypad: 5, yfs: 17, xtick: 14, xpad: 12, xfs: 17, lw: 2.7,
  series: [{data: us, color: COL.orange}, {data: em, color: COL.green}, {data: eafe, color: COL.blue}, {data: acw, color: COL.red}],
  endLabel: {point: acw[acw.length - 1], text: "7/20", size: 17},
  bar: {y: 16.24, x1: 1993.41, x2: 2027.77}
});

buildPanel({
  left: 1140, top: 60, width: 1249, height: 680, mL: 45.5, mR: 81.5, mT: 36.7, mB: 62.3,
  yDomain: [0, 40], majors: rightMajors, minors: null,
  ytick: 14, ypad: 4, yfs: 19, xtick: 14, xpad: 12.5, xfs: 19, lw: 3.0,
  series: [{data: turkey, color: COL.cyan}, {data: taiwan, color: COL.purple}, {data: korea, color: COL.orange}, {data: indonesia, color: COL.green}, {data: india, color: COL.blue}, {data: china, color: COL.red}],
  endLabel: {point: china[china.length - 1], text: "7/20", size: 20}
});

// ---------- titles, legends, notes ----------
const ov = d3.select(page).append("svg")
  .attr("width", 2389).attr("height", 814)
  .style("position", "absolute").style("left", "0px").style("top", "0px");

ov.append("defs").append("clipPath").attr("id", "cut").append("rect")
  .attr("x", 1600).attr("y", 44.5).attr("width", 200).attr("height", 30);
ov.append("text").attr("clip-path", "url(#cut)").attr("x", 1634).attr("y", 43)
  .attr("font-family", SANS).attr("font-weight", "bold").attr("font-size", 46).text("ging");

function txt(x, y, s, o = {}) {
  ov.append("text").attr("x", x).attr("y", y)
    .attr("font-family", o.family || SANS).attr("font-size", o.size || 18)
    .attr("font-weight", o.weight || "normal").attr("font-style", o.style || "normal")
    .attr("text-anchor", o.anchor || "start").attr("fill", o.fill || "#000")
    .text(s);
}

// Figure 2
txt(78, 156, "Figure 2.", {size: 20.6, weight: "bold"});
txt(80, 191.5, "FORWARD P/E: WORLD MSCI", {size: 20.8, weight: "bold"});
txt(553, 259, "Forward P/E*", {size: 20.6, weight: "bold"});
const leftCols = [COL.red, COL.blue, COL.green, COL.orange];
[282, 304.5, 327, 349.5].forEach((y, i) => {
  ov.append("line").attr("x1", 553).attr("x2", 587).attr("y1", y).attr("y2", y).attr("stroke", leftCols[i]).attr("stroke-width", 2.7);
  txt(597.5, y + 7.3, leftNames[i], {size: 18.7});
});
txt(1072, 689, "yardeni.com", {family: SERIF, size: 18, weight: "bold", style: "italic", anchor: "end"});
txt(52, 753, "*", {family: SERIF, size: 16.8});
txt(69, 753, "Price divided by 12-month forward consensus expected operating earnings per share. Monthly through December 2005, weekly thereafter.", {family: SERIF, size: 16.8});
txt(69, 770.5, "Source: I/B/E/S data by Refinitiv.", {family: SERIF, size: 16.8});

// Figure 15
txt(1196, 81.5, "Figure 15.", {size: 22.7, weight: "bold"});
txt(1198, 121.5, "FORWARD P/E: EMERGING ECONOMIES MSCI", {size: 23, weight: "bold"});
txt(1908, 145.5, "Forward P/E*", {size: 23, weight: "bold"});
const rightCols = [COL.red, COL.blue, COL.green, COL.orange, COL.purple, COL.cyan];
[171, 196, 221.5, 246.5, 271.5, 296.5].forEach((y, i) => {
  ov.append("line").attr("x1", 1907.5).attr("x2", 1946).attr("y1", y).attr("y2", y).attr("stroke", rightCols[i]).attr("stroke-width", 3);
  txt(1958, y + 7.4, rightNames[i], {size: 20.7});
});
txt(2296, 671, "yardeni.com", {family: SERIF, size: 20, weight: "bold", style: "italic", anchor: "end"});
txt(1166, 743, "*", {family: SERIF, size: 18.4});
txt(1185.5, 743, "Price divided by 12-month forward consensus expected operating earnings per share. Monthly through December 2005, weekly thereafter.", {family: SERIF, size: 18.4});
txt(1185.5, 762.5, "Source: I/B/E/S data by Refinitiv", {family: SERIF, size: 18.4});
</script></body></html>
